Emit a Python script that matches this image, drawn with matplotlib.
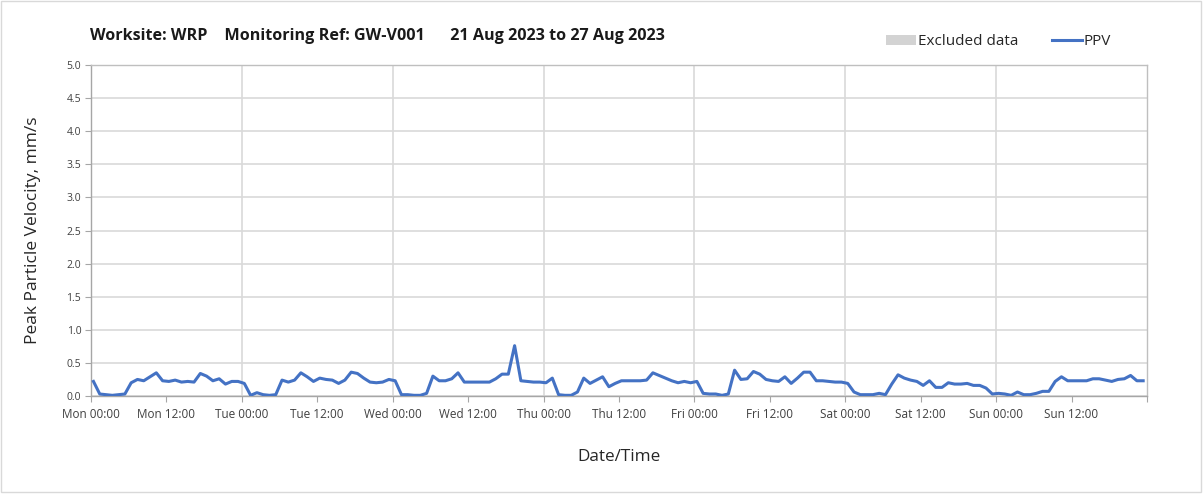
import numpy as np
import matplotlib.pyplot as plt
from matplotlib.patches import Patch, Rectangle
from matplotlib.lines import Line2D

plt.rcParams['font.family'] = ['Open Sans', 'DejaVu Sans']

# hourly PPV readings, Mon 00:00 -> Sun 23:00
ppv = [
    0.22, 0.03, 0.02, 0.01, 0.02, 0.03, 0.20, 0.25, 0.23, 0.29, 0.35, 0.23,
    0.22, 0.24, 0.21, 0.22, 0.21, 0.34, 0.30, 0.23, 0.26, 0.18, 0.22, 0.22,
    0.19, 0.01, 0.05, 0.02, 0.01, 0.02, 0.24, 0.21, 0.24, 0.35, 0.29, 0.22,
    0.27, 0.25, 0.24, 0.19, 0.24, 0.36, 0.34, 0.27, 0.21, 0.20, 0.21, 0.25,
    0.23, 0.02, 0.02, 0.01, 0.01, 0.04, 0.30, 0.23, 0.23, 0.26, 0.35, 0.21,
    0.21, 0.21, 0.21, 0.21, 0.26, 0.33, 0.33, 0.76, 0.23, 0.22, 0.21, 0.21,
    0.20, 0.27, 0.02, 0.01, 0.01, 0.06, 0.27, 0.19, 0.24, 0.29, 0.14, 0.19,
    0.23, 0.23, 0.23, 0.23, 0.24, 0.35, 0.31, 0.27, 0.23, 0.20, 0.22, 0.20,
    0.22, 0.04, 0.03, 0.03, 0.01, 0.03, 0.39, 0.25, 0.26, 0.37, 0.33, 0.25,
    0.23, 0.22, 0.29, 0.19, 0.27, 0.36, 0.36, 0.23, 0.23, 0.22, 0.21, 0.21,
    0.19, 0.06, 0.02, 0.02, 0.02, 0.04, 0.02, 0.18, 0.32, 0.27, 0.24, 0.22,
    0.16, 0.23, 0.13, 0.13, 0.20, 0.18, 0.18, 0.19, 0.16, 0.16, 0.12, 0.03,
    0.04, 0.03, 0.01, 0.06, 0.02, 0.02, 0.04, 0.07, 0.07, 0.22, 0.29, 0.23,
    0.23, 0.23, 0.23, 0.26, 0.26, 0.24, 0.22, 0.25, 0.26, 0.31, 0.23, 0.23,
]
hours = np.arange(len(ppv)) + 0.4

tick_labels = ['Mon 00:00', 'Mon 12:00', 'Tue 00:00', 'Tue 12:00', 'Wed 00:00',
               'Wed 12:00', 'Thu 00:00', 'Thu 12:00', 'Fri 00:00', 'Fri 12:00',
               'Sat 00:00', 'Sat 12:00', 'Sun 00:00', 'Sun 12:00', '']

title = 'Worksite: WRP    Monitoring Ref: GW-V001      21 Aug 2023 to 27 Aug 2023'

line_color = '#4472c4'
grid_color = '#d9d9d9'
text_color = '#404040'

fig = plt.figure(figsize=(12.03, 4.94), dpi=100)
ax = fig.add_axes([0.0756, 0.1984, 0.8778, 0.67])

# outer frame round the whole chart
fig.patches.append(Rectangle((0.001, 0.004), 0.997, 0.993, transform=fig.transFigure,
                             fill=False, edgecolor='#d9d9d9', linewidth=1))

ax.plot(hours, ppv, color=line_color, linewidth=2.2, zorder=3)

ax.set_xlim(0, 168)
ax.set_ylim(0, 5)
ax.set_xticks(np.arange(0, 169, 12))
ax.set_xticklabels(tick_labels)
ax.set_yticks(np.arange(0, 5.01, 0.5))
ax.set_yticklabels([f'{v:.1f}' for v in np.arange(0, 5.01, 0.5)])

ax.grid(axis='y', color=grid_color, linewidth=1.2)
for d in range(24, 168, 24):
    ax.axvline(d, color=grid_color, linewidth=1.2, zorder=1)
ax.set_axisbelow(True)

for s in ax.spines.values():
    s.set_color('#a6a6a6')
    s.set_linewidth(1)
ax.spines['top'].set_color('#bfbfbf')
ax.spines['right'].set_color('#bfbfbf')

ax.tick_params(axis='x', length=4, color='#a6a6a6', labelsize=8.5, labelcolor=text_color, pad=5)
ax.tick_params(axis='y', length=4, color='#a6a6a6', labelsize=7.5, labelcolor=text_color, pad=3)

ax.set_ylabel('Peak Particle Velocity, mm/s', fontsize=12.5, color='#262626', labelpad=18)
ax.set_xlabel('Date/Time', fontsize=12.3, color='#262626', labelpad=20)

fig.text(0.0748, 0.928, title, fontsize=11.6, fontweight='bold', color='#1a1a1a',
         ha='left', va='center')

handles = [Patch(facecolor='#d3d3d3', edgecolor='none', label='Excluded data'),
           Line2D([0], [0], color=line_color, linewidth=2.2, label='PPV')]
fig.legend(handles=handles, loc='center right', bbox_to_anchor=(0.935, 0.915), ncol=2,
           frameon=False, fontsize=11, handlelength=2.0, handleheight=0.7,
           handletextpad=0.1, columnspacing=2.2, labelcolor='#262626')

fig.savefig('out.png', dpi=100, facecolor='white')
